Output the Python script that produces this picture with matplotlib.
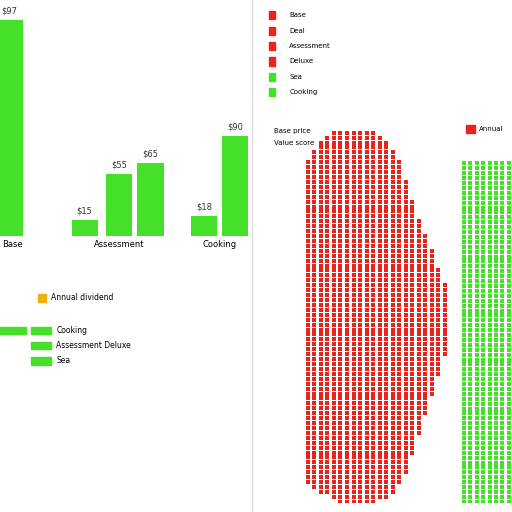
import matplotlib
matplotlib.use("Agg")
import matplotlib.pyplot as plt
import numpy as np

groups = ["Base", "Assessment", "Cooking"]
bar_vals = [[98], [7, 28, 33], [9, 45]]
bar_labels = [["$97"], ["$15", "$55", "$65"], ["$18", "$90"]]
red_col_tops = [70, 72, 74, 75, 76, 76, 76, 76, 76, 76, 76, 75, 74, 72, 70, 66, 62, 58, 55, 52, 48, 45]
red_col_bottoms = [4, 3, 2, 2, 1, 0, 0, 0, 0, 0, 0, 1, 1, 2, 4, 6, 10, 14, 18, 22, 26, 30]
green_col_tops = [70, 70, 70, 70, 70, 70, 70, 70]
legend_items = ["Cooking", "Assessment Deluxe", "Sea"]

fig = plt.figure(figsize=(5.12, 5.12), dpi=100)
green = "#44e02a"
red = "#e8241c"

ax = fig.add_axes([0.0, 0.54, 0.49, 0.43])
xs = [[0.15], [1.35, 1.9, 2.4], [3.25, 3.75]]
for g, xx in enumerate(xs):
    ax.bar(xx, bar_vals[g], width=0.42, color=green)
    for xi, v, l in zip(xx, bar_vals[g], bar_labels[g]):
        ax.text(xi, v + 3, l, ha="center", fontsize=6, color="#333")
ax.set_xticks([0.2, 1.9, 3.5])
ax.set_xticklabels(groups, fontsize=6)
ax.set_xlim(0, 4.0)
ax.set_ylim(0, 100)
ax.set_yticks([])
for s in ax.spines.values():
    s.set_visible(False)
ax.tick_params(length=0)

fig.patches.append(plt.Rectangle((0.075, 0.410), 0.015, 0.016, color="#f0b010", transform=fig.transFigure))
fig.text(0.1, 0.418, "Annual dividend", fontsize=5.5, va="center")
for i, t in enumerate(legend_items):
    y = 0.355 - i * 0.03
    fig.patches.append(plt.Rectangle((0.06, y - 0.007), 0.04, 0.014, color=green, transform=fig.transFigure))
    fig.text(0.11, y, t, fontsize=5.5, va="center")
fig.patches.append(plt.Rectangle((0.0, 0.348), 0.05, 0.014, color=green, transform=fig.transFigure))
fig.add_artist(plt.Line2D([0.493, 0.493], [0, 1], color="#ddd", lw=1))

ax2 = fig.add_axes([0.595, 0.02, 0.28, 0.74])
for i, (t, b) in enumerate(zip(red_col_tops, red_col_bottoms)):
    ys = np.arange(b, t)
    ax2.scatter(np.full(len(ys), i), ys, s=9, marker="s", color=red, linewidths=0)
ax2.set_xlim(-0.5, len(red_col_tops) - 0.5)
ax2.set_ylim(0, 77)
ax2.axis("off")

ax3 = fig.add_axes([0.9, 0.02, 0.1, 0.68])
for i, t in enumerate(green_col_tops):
    ys = np.arange(0, t)
    ax3.scatter(np.full(len(ys), i), ys, s=9, marker="s", color=green, linewidths=0)
ax3.set_xlim(-0.5, 7.5)
ax3.set_ylim(0, 71)
ax3.axis("off")

top_items = ["Base", "Deal", "Assessment", "Deluxe", "Sea", "Cooking"]
for i, t in enumerate(top_items):
    y = 0.97 - i * 0.03
    c = red if i < 4 else green
    fig.patches.append(plt.Rectangle((0.525, y - 0.008), 0.012, 0.016, color=c, transform=fig.transFigure))
    fig.text(0.565, y, t, fontsize=5, va="center")
fig.patches.append(plt.Rectangle((0.91, 0.74), 0.018, 0.016, color=red, transform=fig.transFigure))
fig.text(0.935, 0.748, "Annual", fontsize=5, va="center")
fig.text(0.535, 0.745, "Base price", fontsize=5, va="center")
fig.text(0.535, 0.72, "Value score", fontsize=5, va="center")

fig.savefig("out.png", dpi=100, facecolor="white")
